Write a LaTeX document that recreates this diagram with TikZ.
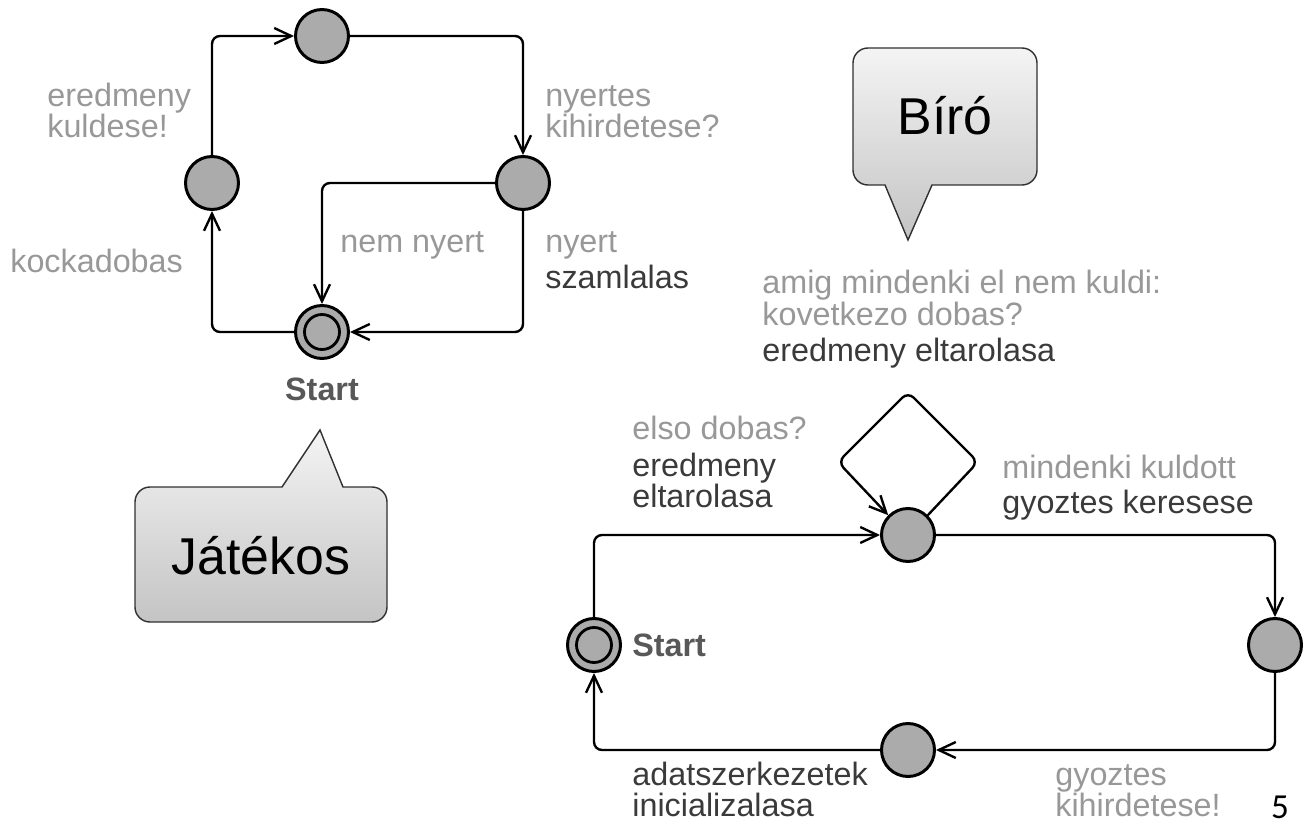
\documentclass[tikz,border=0pt]{standalone}
\usepackage{fontspec}
\setmainfont{Liberation Sans}
\newfontfamily\pagefont{Carlito}
\usetikzlibrary{arrows.meta}
\definecolor{locgray}{HTML}{ABABAB}
\definecolor{guardgray}{HTML}{989898}
\definecolor{updgray}{HTML}{3A3A3A}
\definecolor{startgray}{HTML}{585858}
\definecolor{bubtop}{HTML}{F4F4F4}
\definecolor{bubbot}{HTML}{C4C4C4}
\definecolor{bubbleline}{HTML}{303030}
\begin{document}
\begin{tikzpicture}[x=0.02cm,y=-0.02cm,
  loc/.style={circle,draw=black,fill=locgray,line width=1.7pt,minimum size=1.06cm,inner sep=0pt},
  initloc/.style={loc,path picture={\draw[line width=1.6pt] (path picture bounding box.center) circle (0.35cm);}},
  edge/.style={line width=1.35pt,rounded corners=0.16cm,-{Straight Barb[length=0.34cm,width=0.32cm,line width=1.35pt]}},
  guard/.style={anchor=base west,inner sep=0pt,text=guardgray,font=\fontsize{18.4pt}{22pt}\selectfont},
  update/.style={guard,text=updgray},
  startlbl/.style={font=\bfseries\fontsize{18.4pt}{22pt}\selectfont,text=startgray,inner sep=0pt},
  bubble/.style={draw=bubbleline,line width=0.8pt,top color=bubtop,bottom color=bubbot},
  bubtext/.style={font=\fontsize{29.5pt}{34pt}\selectfont,inner sep=0pt}
]
\useasboundingbox (0,0) rectangle (1308,827);

% ---------- player automaton ----------
\node[loc] (jt) at (322,36) {};
\node[loc] (jl) at (212,183) {};
\node[loc] (jr) at (523,183) {};
\node[initloc] (js) at (322,332) {};
\node[startlbl] (jstart) at (322,389) {Start};

\draw[edge] (jl) |- (jt);
\draw[edge] (jt) -| (jr);
\draw[edge] (jr) |- (js);
\draw[edge] (jr) -| (js);
\draw[edge] (js) -| (jl);

\node[guard] (jg1a) at (47,107) {eredmeny};
\node[guard] (jg1b) at (47,138) {kuldese!};
\node[guard] (jg2a) at (545,107) {nyertes};
\node[guard] (jg2b) at (545,138) {kihirdetese?};
\node[guard] (jg3) at (10,273) {kockadobas};
\node[guard] (jg4) at (340,253) {nem nyert};
\node[guard] (jg5) at (545,253) {nyert};
\node[update] (ju5) at (545,289) {szamlalas};

% ---------- referee automaton ----------
\node[loc] (bt) at (908,535) {};
\node[loc] (br) at (1275,645) {};
\node[loc] (bb) at (908,750) {};
\node[initloc] (bs) at (594,645) {};
\node[startlbl,anchor=west] (bstart) at (632,645) {Start};

\draw[edge] (bs) |- (bt);
\draw[edge] (bt) -| (br);
\draw[edge] (br) |- (bb);
\draw[edge] (bb) -| (bs);
\draw[edge] (bt.45) -- (978,462) -- (908,392) -- (838,462) -- (bt.135);

\node[guard] (bg1a) at (762,294) {amig mindenki el nem kuldi:};
\node[guard] (bg1b) at (762,326) {kovetkezo dobas?};
\node[update] (bu1) at (762,361) {eredmeny eltarolasa};
\node[guard] (bg2) at (632,439) {elso dobas?};
\node[update] (bu2a) at (632,476) {eredmeny};
\node[update] (bu2b) at (632,507) {eltarolasa};
\node[guard] (bg3) at (1002,478) {mindenki kuldott};
\node[update] (bu3) at (1002,513) {gyoztes keresese};
\node[update] (bu4a) at (632,785) {adatszerkezetek};
\node[update] (bu4b) at (632,816) {inicializalasa};
\node[guard] (bg5a) at (1055,785) {gyoztes};
\node[guard] (bg5b) at (1055,816) {kihirdetese!};

% ---------- speech bubbles ----------
\path[bubble] (135,555) [rounded corners=0.3cm] -- (135,622) -- (387,622) -- (387,487)
  [sharp corners] -- (343,487) -- (320,430) -- (282,487)
  [rounded corners=0.3cm] -- (135,487) -- cycle;
\node[bubtext] (jatekos) at (261,556) {Játékos};

\path[bubble] (853,116) [rounded corners=0.3cm] -- (853,48) -- (1037,48) -- (1037,185)
  [sharp corners] -- (932,185) -- (908,240) -- (885,185)
  [rounded corners=0.3cm] -- (853,185) -- cycle;
\node[bubtext] (biro) at (945,116) {Bíró};

% page number
\node[font=\pagefont\fontsize{20pt}{24pt}\selectfont,anchor=base,inner sep=0pt] (pagenum) at (1280,818) {5};
\end{tikzpicture}
\end{document}
